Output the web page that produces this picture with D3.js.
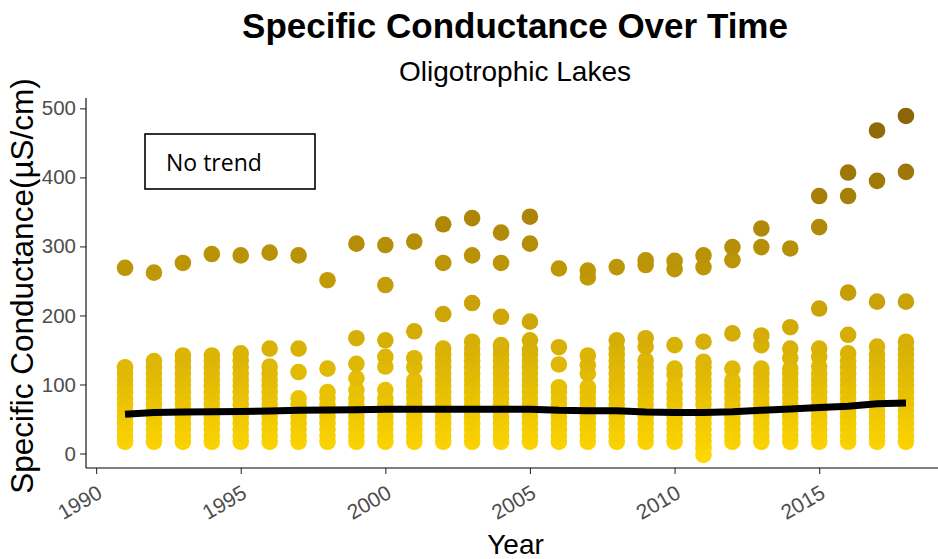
<!DOCTYPE html>
<html>
<head>
<meta charset="utf-8">
<script src="https://cdn.jsdelivr.net/npm/d3@7"></script>
<style>
  html, body { margin: 0; padding: 0; background: #ffffff; }
  svg { display: block; }
</style>
</head>
<body>
<div id="chart"></div>
<script>
// ---------------- data ----------------
const years = [1991,1992,1993,1994,1995,1996,1997,1998,1999,2000,2001,2002,2003,2004,
               2005,2006,2007,2008,2009,2010,2011,2012,2013,2014,2015,2016,2017,2018];

// specific conductance readings per year (µS/cm)
const conductanceByYear = [
  [17,26,35,44,53,62,71,80,89,98,107,116,125,269],
  [17,26,35,44,53,62,71,80,89,98,107,116,125,134,262],
  [17,26,35,44,53,62,71,80,89,98,107,116,125,134,142,276],
  [17,26,35,44,53,62,71,80,89,98,107,116,125,134,142,289],
  [17,26,35,44,53,62,71,80,89,98,107,116,125,135,145,287],
  [17,26,35,44,53,62,71,80,89,98,107,116,126,152,291],
  [17,26,35,44,53,62,71,80,118,152,287],
  [17,26,35,44,53,62,71,80,89,123,251],
  [17,26,35,44,53,62,71,80,92,109,130,167,304],
  [17,26,35,44,53,62,71,80,92,126,140,164,244,302],
  [17,26,35,44,53,62,71,80,89,98,106,125,138,177,307],
  [17,26,35,44,53,62,71,80,89,98,107,116,125,134,143,152,202,276,332],
  [17,26,35,44,53,62,71,80,89,98,107,116,125,134,143,152,162,218,287,341],
  [17,26,35,44,53,62,71,80,89,98,107,116,125,134,143,152,157,198,276,320],
  [17,26,35,44,53,62,71,80,89,98,107,116,125,134,143,150,164,191,304,343],
  [17,26,35,44,53,62,71,80,89,96,129,154,268],
  [17,26,35,44,53,62,71,80,89,96,116,128,142,255,265],
  [17,26,35,44,53,62,71,80,89,98,107,116,125,134,143,152,164,270],
  [17,26,35,44,53,62,71,80,89,98,107,116,125,135,155,167,273,280],
  [17,26,35,44,53,62,71,80,89,100,114,123,157,267,279],
  [-2,8,17,26,35,44,53,62,71,80,89,98,107,116,125,133,162,270,287],
  [17,26,35,44,53,62,71,80,89,98,106,123,174,280,299],
  [17,26,35,44,53,62,71,80,89,98,107,116,123,157,171,299,326],
  [17,26,35,44,53,62,71,80,89,98,107,116,123,138,152,183,297],
  [17,26,35,44,53,62,71,80,89,98,107,115,126,140,152,210,328,373],
  [17,26,35,44,53,62,71,80,89,98,107,116,125,134,145,172,233,373,407],
  [17,26,35,44,53,62,71,80,89,98,107,116,125,134,143,155,220,395,468],
  [17,26,35,44,53,62,71,80,89,98,107,116,125,134,143,152,162,220,408,489]
];

// fitted trend line (black), one value per year
const trendValues = [57,59.5,60,60.5,61,61.5,62.5,63,63.5,64,64,64,64,64,
                     64,62.5,62,62,60,59.5,59.5,60.5,62.5,64.5,66.5,68.5,72,73];

const xTicks = [1990,1995,2000,2005,2010,2015];
const yTicks = [0,100,200,300,400,500];

const titleText = "Specific Conductance Over Time";
const subtitleText = "Oligotrophic Lakes";
const xTitle = "Year";
const yTitle = "Specific Conductance(µS/cm)";
const noteText = "No trend";

// ---------------- chart ----------------
const W = 938, H = 559;
const panel = { left: 86, right: 945, top: 98, bottom: 468 };
const FONT = "'Liberation Sans', Arial, sans-serif";

const svg = d3.select("#chart").append("svg")
  .attr("width", W).attr("height", H)
  .style("font-family", FONT);

const x = d3.scaleLinear().domain([1989.65, 2019.35]).range([panel.left, panel.right]);
const y = d3.scaleLinear().domain([-21, 515]).range([panel.bottom, panel.top]);

const points = [];
years.forEach((yr, i) => conductanceByYear[i].forEach(v => points.push({ year: yr, value: v })));
const vExtent = d3.extent(points, d => d.value);
const color = d3.scaleLinear().domain(vExtent).range(["#FFD700", "#8B6508"]).interpolate(d3.interpolateLab);

// points
svg.append("g").selectAll("circle")
  .data(points.slice().sort((a, b) => a.value - b.value))
  .join("circle")
  .attr("cx", d => x(d.year))
  .attr("cy", d => y(d.value))
  .attr("r", 8.3)
  .attr("fill", d => color(d.value));

// trend line
svg.append("path")
  .datum(years.map((yr, i) => ({ year: yr, value: trendValues[i] })))
  .attr("fill", "none")
  .attr("stroke", "#000")
  .attr("stroke-width", 7)
  .attr("d", d3.line().x(d => x(d.year)).y(d => y(d.value)));

// axes
const yAxis = svg.append("g")
  .attr("transform", `translate(${panel.left},0)`)
  .call(d3.axisLeft(y).tickValues(yTicks).tickSize(6).tickPadding(4).tickSizeOuter(0));
yAxis.select(".domain").remove();
yAxis.append("line").attr("x1", 0).attr("x2", 0).attr("y1", panel.top).attr("y2", panel.bottom)
  .attr("stroke", "#000").attr("stroke-width", 1.1);
yAxis.selectAll(".tick line").attr("stroke", "#333").attr("stroke-width", 1.1);
yAxis.selectAll(".tick text").attr("fill", "#4d4d4d").style("font-size", "20.5px")
  .style("font-family", FONT);

const xAxis = svg.append("g")
  .attr("transform", `translate(0,${panel.bottom})`)
  .call(d3.axisBottom(x).tickValues(xTicks).tickFormat(d3.format("d")).tickSize(6).tickSizeOuter(0));
xAxis.select(".domain").remove();
xAxis.append("line").attr("x1", panel.left).attr("x2", panel.right).attr("y1", 0).attr("y2", 0)
  .attr("stroke", "#000").attr("stroke-width", 1.1);
xAxis.selectAll(".tick line").attr("stroke", "#333").attr("stroke-width", 1.1);
xAxis.selectAll(".tick text")
  .attr("fill", "#4d4d4d").style("font-size", "21px")
  .style("font-family", FONT)
  .attr("text-anchor", "end")
  .attr("y", 0).attr("dy", 0)
  .attr("transform", "translate(7,29) rotate(-30)");

// titles
svg.append("text").attr("x", 515).attr("y", 38).attr("text-anchor", "middle")
  .style("font-size", "35px").style("font-weight", "bold").attr("fill", "#000").text(titleText);
svg.append("text").attr("x", 515).attr("y", 81).attr("text-anchor", "middle")
  .style("font-size", "28px").attr("fill", "#000").text(subtitleText);
svg.append("text").attr("x", 515.5).attr("y", 554).attr("text-anchor", "middle")
  .style("font-size", "28px").attr("fill", "#000").text(xTitle);
svg.append("text").attr("transform", `translate(33,286) rotate(-90)`)
  .attr("text-anchor", "middle").style("font-size", "31.5px").attr("fill", "#000").text(yTitle);

// annotation box
const note = svg.append("g");
note.append("rect").attr("x", 145).attr("y", 134).attr("width", 170).attr("height", 55)
  .attr("fill", "#fff").attr("stroke", "#000").attr("stroke-width", 1.6);
note.append("text").attr("x", 166).attr("y", 171)
  .style("font-family", "'Open Sans', sans-serif").style("font-size", "23px").attr("fill", "#000")
  .text(noteText);
</script>
</body>
</html>
